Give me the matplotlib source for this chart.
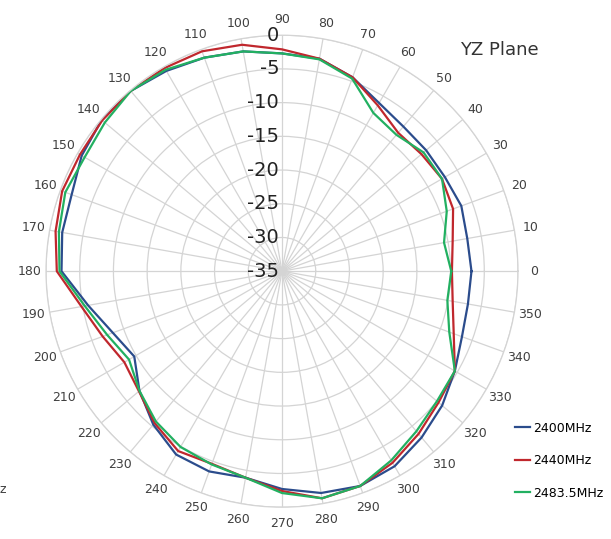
import numpy as np
import matplotlib
matplotlib.use('Agg')
import matplotlib.pyplot as plt
from matplotlib.transforms import offset_copy

# Radiation pattern, YZ plane (dB), one value every 10 degrees from 0 to 350
angles_deg = list(range(0, 360, 10))
gain_2400 = [-6.9, -7.1, -6.7, -7.1, -7.1, -7.0, -6.2, -4.4, -3.0, -2.7,
             -1.9, -1.3, -0.7, -0.1, -0.1, -0.7, -1.8, -1.9, -2.3, -5.8,
             -8.3, -9.7, -7.4, -5.3, -3.6, -3.4, -3.9, -2.7, -1.6, -1.1,
             -1.6, -2.8, -4.0, -5.4, -6.6, -7.0]
gain_2440 = [-9.8, -9.3, -8.0, -7.6, -8.0, -8.2, -6.6, -4.4, -3.0, -2.1,
             -0.9, -0.3, -0.2, -0.1, -0.2, -0.4, -0.3, -0.9, -1.6, -4.8,
             -6.7, -8.0, -7.3, -5.6, -4.2, -4.6, -3.9, -2.4, -0.8, -1.1,
             -2.2, -3.5, -4.7, -5.4, -7.9, -9.3]
gain_2483 = [-9.9, -10.6, -9.0, -7.6, -7.6, -8.6, -7.9, -4.6, -3.1, -2.7,
             -1.9, -1.3, -0.5, -0.1, -0.7, -1.2, -0.8, -1.4, -2.0, -5.3,
             -7.4, -8.8, -7.4, -5.9, -4.9, -4.5, -3.9, -2.1, -0.8, -1.1,
             -2.6, -4.0, -5.0, -5.4, -8.6, -10.1]
series_labels = ['2400MHz', '2440MHz', '2483.5MHz']
series_colors = ['#2b4c8c', '#c0272d', '#22b061']
r_ticks = [0, -5, -10, -15, -20, -25, -30, -35]

fig = plt.figure(figsize=(6.11, 5.39), dpi=100)
ax = fig.add_axes([0.0753, 0.059, 0.7725, 0.8757], projection='polar')

theta = np.deg2rad(angles_deg + [angles_deg[0]])
for vals, lab, col in zip([gain_2400, gain_2440, gain_2483], series_labels, series_colors):
    ax.plot(theta, vals + [vals[0]], color=col, lw=1.6, label=lab)

ax.set_ylim(-35, 0)
ax.set_yticks([-30, -25, -20, -15, -10, -5, 0])
ax.set_yticklabels([])
ax.set_thetagrids(angles_deg, [str(a) for a in angles_deg],
                  fontsize=9, color='#404040')
ax.tick_params(axis='x', pad=1)
ax.grid(color='#d4d4d4', lw=0.9)
ax.spines['polar'].set_color('#d4d4d4')
ax.spines['polar'].set_linewidth(0.9)

# radial labels along the 90 degree spoke
lab_tr = offset_copy(ax.transData, fig=fig, x=-2, y=0, units='points')
for r in r_ticks:
    ax.text(np.deg2rad(90), r, str(r), ha='right', va='center', transform=lab_tr,
            fontsize=14, color='#222222', zorder=5)

fig.text(0.818, 0.907, 'YZ Plane', ha='center', va='center', fontsize=13, color='#333333')
fig.text(0.0, 0.091, 'z', ha='left', va='center', fontsize=9, color='#404040')

fig.legend(loc='upper left', bbox_to_anchor=(0.832, 0.229), frameon=False,
           fontsize=9, handlelength=1.2, handletextpad=0.3, labelspacing=1.55,
           borderpad=0)

fig.savefig('out.png', dpi=100)
